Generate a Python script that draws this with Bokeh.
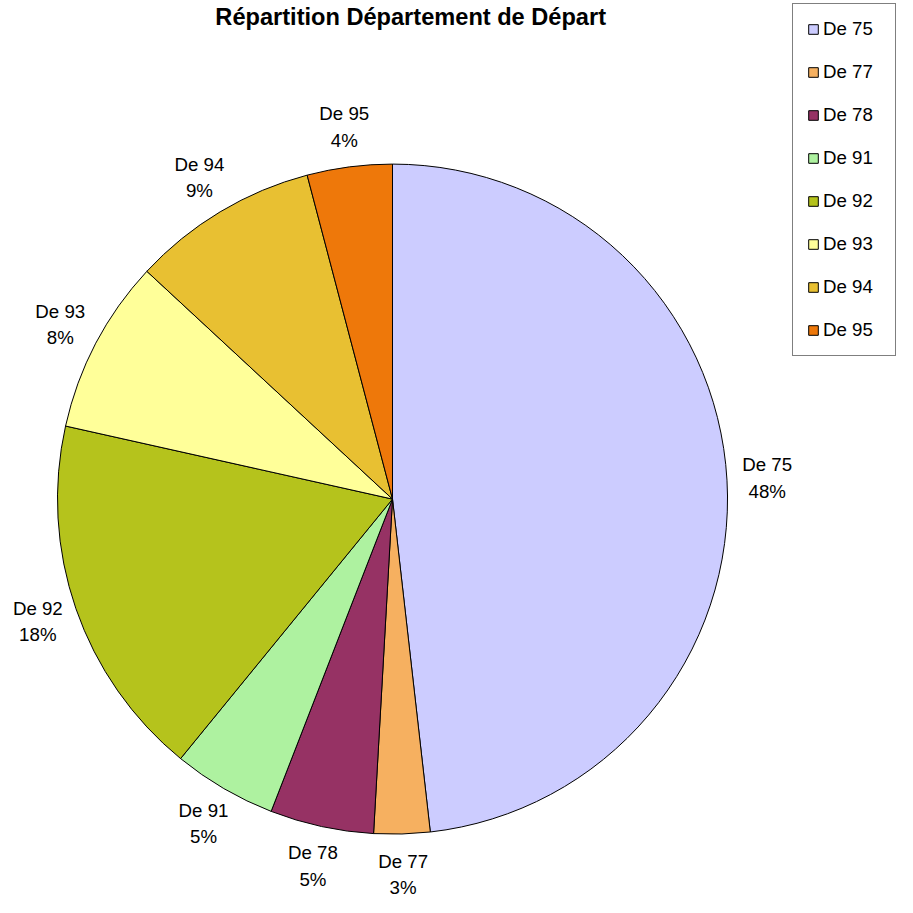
import numpy as np
from bokeh.plotting import figure
from bokeh.models import Range1d, ColumnDataSource, Label, Legend, LegendItem
from bokeh.embed import file_html
from bokeh.resources import INLINE

categories = ["De 75", "De 77", "De 78", "De 91", "De 92", "De 93", "De 94", "De 95"]
values = [48.2, 2.7, 5.0, 5.0, 17.6, 8.4, 9.0, 4.1]
colors = ["#CCCCFF", "#F6B060", "#963264", "#AEF2A0", "#B5C31C", "#FFFF99", "#E8C032", "#EE780A"]
title_text = "Répartition Département de Départ"

W = H = 897
REF = 913.0
S = W / REF
FONT = "Liberation Sans"

p = figure(width=W, height=H, output_backend="svg", toolbar_location=None,
           x_range=Range1d(0, REF), y_range=Range1d(0, REF), min_border=0)
p.axis.visible = False
p.grid.visible = False
p.outline_line_color = None

cx, cy, r = 399, REF - 507.5, 341

v = np.array(values, dtype=float)
frac = v / v.sum()
cum = np.concatenate([[0], np.cumsum(frac)])
start = np.pi / 2 - 2 * np.pi * cum[:-1]
end = np.pi / 2 - 2 * np.pi * cum[1:]
mid = (start + end) / 2

src = ColumnDataSource(dict(start=start, end=end, color=colors, cat=categories))
wr = p.wedge(x=cx, y=cy, radius=r, start_angle="start", end_angle="end",
             direction="clock", fill_color="color", line_color="black",
             line_width=1, source=src)

lr = 382
labels = [f"{c}\n{round(x)}%" for c, x in zip(categories, values)]
lsrc = ColumnDataSource(dict(x=cx + lr * np.cos(mid), y=cy + lr * np.sin(mid), t=labels))
fs = f"{19 * S:.1f}px"
p.text(x="x", y="y", text="t", source=lsrc, text_align="center",
       text_baseline="middle", text_font_size=fs, text_color="#000000",
       text_font={"value": FONT}, text_line_height=1.25)

p.add_layout(Label(x=417.5, y=REF - 17, text=title_text, text_align="center",
                   text_baseline="middle", text_font=FONT,
                   text_font_size=f"{24 * S:.1f}px",
                   text_font_style="bold", text_color="#000000"))

items = [LegendItem(label=c, renderers=[wr], index=i) for i, c in enumerate(categories)]
leg_h = 352
legend = Legend(items=items, location=(int(807 * S), int(H - 4 - leg_h)),
                orientation="vertical",
                glyph_width=12, glyph_height=12, label_height=22, spacing=21,
                padding=14, label_standoff=4, label_width=58,
                label_text_font=FONT, label_text_font_size=fs,
                label_text_color="#000000",
                border_line_color="black", border_line_width=1,
                background_fill_color="white", background_fill_alpha=1.0,
                margin=0)
p.add_layout(legend)

open("out.html", "w").write(file_html(p, INLINE))
